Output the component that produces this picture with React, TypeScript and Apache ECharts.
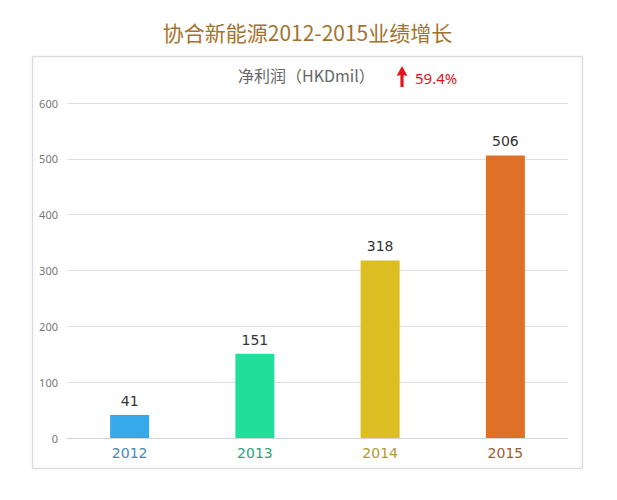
import React, { useEffect, useRef } from "react";
import * as echarts from "echarts";

const categories = ["2012", "2013", "2014", "2015"];
const values = [41, 151, 318, 506];
const barColors = ["#35a9ea", "#22de9b", "#dcbe22", "#de7027"];
const labelColors = ["#3b8db5", "#2ba37c", "#b39a2c", "#9c5d2f"];
const yTicks = [0, 100, 200, 300, 400, 500, 600];
const titleText = "协合新能源2012-2015业绩增长";
const subtitleText = "净利润（HKDmil）";
const growthText = "59.4%";

export default function App() {
  const ref = useRef<HTMLDivElement>(null);
  useEffect(() => {
    document.body.style.margin = "0";
    const chart = echarts.init(ref.current!, null, { renderer: "svg" });
    chart.setOption({
      animation: false,
      backgroundColor: "#ffffff",
      grid: { left: 67, right: 49, top: 103, bottom: 62, containLabel: false },
      graphic: [
        {
          type: "rect",
          shape: { x: 32.5, y: 56.5, width: 550, height: 412 },
          style: { fill: "none", stroke: "#dcdcdc", lineWidth: 1, shadowBlur: 3, shadowColor: "rgba(0,0,0,0.12)" },
          z: -1,
        },
        {
          type: "text",
          x: 307.5,
          y: 32,
          style: {
            text: titleText,
            font: '21px "Noto Sans CJK SC", sans-serif',
            fill: "#a4722c",
            align: "center",
            verticalAlign: "middle",
          },
        },
        {
          type: "text",
          x: 238,
          y: 75,
          style: {
            text: subtitleText,
            font: '16px "Noto Sans CJK SC", sans-serif',
            fill: "#666666",
            align: "left",
            verticalAlign: "middle",
          },
        },
        {
          type: "polygon",
          shape: {
            points: [
              [402, 66],
              [407.5, 76],
              [403.6, 75],
              [403.6, 87],
              [400.4, 87],
              [400.4, 75],
              [396.5, 76],
            ],
          },
          style: { fill: "#e8101a" },
        },
        {
          type: "text",
          x: 415,
          y: 78,
          style: {
            text: growthText,
            font: '15px "Noto Sans", sans-serif',
            fill: "#e0101a",
            align: "left",
            verticalAlign: "middle",
          },
        },
      ],
      xAxis: {
        type: "category",
        data: categories,
        axisLine: { lineStyle: { color: "#d4d4d4" } },
        axisTick: { show: false },
        axisLabel: {
          margin: 8,
          fontSize: 14,
          fontFamily: '"DejaVu Sans", sans-serif',
          color: (v: string, i: number) => labelColors[i],
        },
      },
      yAxis: {
        type: "value",
        min: yTicks[0],
        max: yTicks[yTicks.length - 1],
        interval: 100,
        axisLine: { show: false },
        axisTick: { show: false },
        axisLabel: { fontSize: 11, color: "#777777", margin: 9, fontFamily: '"Noto Sans", sans-serif' },
        splitLine: { lineStyle: { color: "#e0e0e0" } },
      },
      series: [
        {
          type: "bar",
          barWidth: 39,
          data: values.map((v, i) => ({ value: v, itemStyle: { color: barColors[i] } })),
          label: {
            show: true,
            position: "top",
            distance: 7,
            fontSize: 14,
            color: "#333333",
            fontFamily: '"DejaVu Sans", sans-serif',
          },
        },
      ],
    });
    return () => chart.dispose();
  }, []);
  return <div ref={ref} style={{ width: 617, height: 500, position: "absolute", left: 0, top: 0 }} />;
}
